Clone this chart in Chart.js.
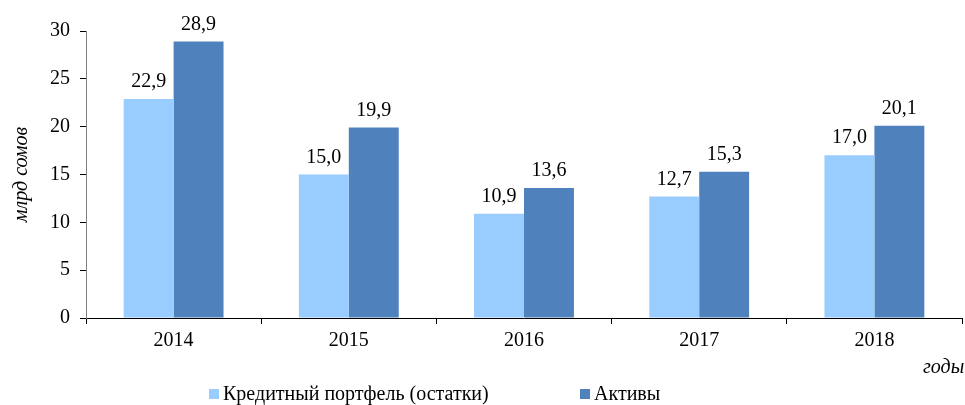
<!DOCTYPE html>
<html>
<head>
<meta charset="utf-8">
<script src="https://cdn.jsdelivr.net/npm/chart.js@4"></script>
<style>
  body { margin: 0; background: #fff; }
  #wrap { position: relative; width: 965px; height: 405px; font-family: 'Liberation Serif', 'Times New Roman', serif; }
  #legend { position: absolute; left: 0; top: 381px; width: 965px; height: 24px; }
  .item { position: absolute; top: 0; font-size: 20px; line-height: 24px; color: #000; white-space: nowrap; }
  .box { display: inline-block; width: 10px; height: 10px; margin-right: 4px; vertical-align: 1px; }
  #xtitle { position: absolute; left: 923px; top: 354px; font-size: 20px; line-height: 24px; font-style: italic; }
</style>
</head>
<body>
<div id="wrap">
  <canvas id="chart" width="965" height="405"></canvas>
  <div id="xtitle">годы</div>
  <div id="legend"></div>
</div>
<script>
var years = ['2014', '2015', '2016', '2017', '2018'];
var credit = [22.9, 15.0, 10.9, 12.7, 17.0];
var assets = [28.9, 19.9, 13.6, 15.3, 20.1];
var seriesNames = ['Кредитный портфель (остатки)', 'Активы'];
var yTicks = [0, 5, 10, 15, 20, 25, 30];

var fontFamily = "'Liberation Serif', 'Times New Roman', serif";

// подписи значений над столбцами
var valueLabels = {
  id: 'valueLabels',
  afterDatasetsDraw: function(chart) {
    var ctx = chart.ctx;
    ctx.save();
    ctx.font = '20px ' + fontFamily;
    ctx.fillStyle = '#000';
    ctx.textAlign = 'center';
    ctx.textBaseline = 'alphabetic';
    chart.data.datasets.forEach(function(ds, i) {
      chart.getDatasetMeta(i).data.forEach(function(bar, j) {
        var txt = ds.data[j].toFixed(1).replace('.', ',');
        ctx.fillText(txt, bar.x, bar.y - 12);
      });
    });
    ctx.restore();
  }
};

var ctx = document.getElementById('chart').getContext('2d');
var chart = new Chart(ctx, {
  type: 'bar',
  data: {
    labels: years,
    datasets: [
      { label: seriesNames[0], data: credit, backgroundColor: '#99CCFF' },
      { label: seriesNames[1], data: assets, backgroundColor: '#4F81BD' }
    ]
  },
  options: {
    responsive: false,
    animation: false,
    layout: { padding: { top: 31, right: 3, left: 0, bottom: 0 } },
    plugins: { legend: { display: false }, tooltip: { enabled: false } },
    datasets: { bar: { categoryPercentage: 0.57, barPercentage: 1.0 } },
    scales: {
      x: {
        grid: { drawOnChartArea: false, drawTicks: true, tickLength: 6, color: '#000', offset: true },
        border: { color: '#000', width: 1 },
        ticks: { color: '#000', font: { family: fontFamily, size: 20 }, padding: 5 },
        afterFit: function(scale) { scale.height = 87; }
      },
      y: {
        min: 0,
        max: 30,
        afterBuildTicks: function(scale) {
          scale.ticks = yTicks.map(function(v) { return { value: v }; });
        },
        grid: { drawOnChartArea: false, drawTicks: true, tickLength: 6, color: '#000' },
        border: { color: '#808080', width: 1 },
        ticks: { color: '#000', font: { family: fontFamily, size: 20 }, padding: 10 },
        title: {
          display: true,
          text: 'млрд сомов',
          color: '#000',
          font: { family: fontFamily, size: 20, style: 'italic' },
          padding: { top: 10, bottom: 0 }
        },
        afterFit: function(scale) { scale.width = 86; }
      }
    }
  },
  plugins: [valueLabels]
});

// легенда
var legend = document.getElementById('legend');
var legendX = [209, 580];
chart.data.datasets.forEach(function(ds, i) {
  var item = document.createElement('div');
  item.className = 'item';
  item.style.left = legendX[i] + 'px';
  item.innerHTML = '<span class="box" style="background:' + ds.backgroundColor + '"></span>' + ds.label;
  legend.appendChild(item);
});
</script>
</body>
</html>
